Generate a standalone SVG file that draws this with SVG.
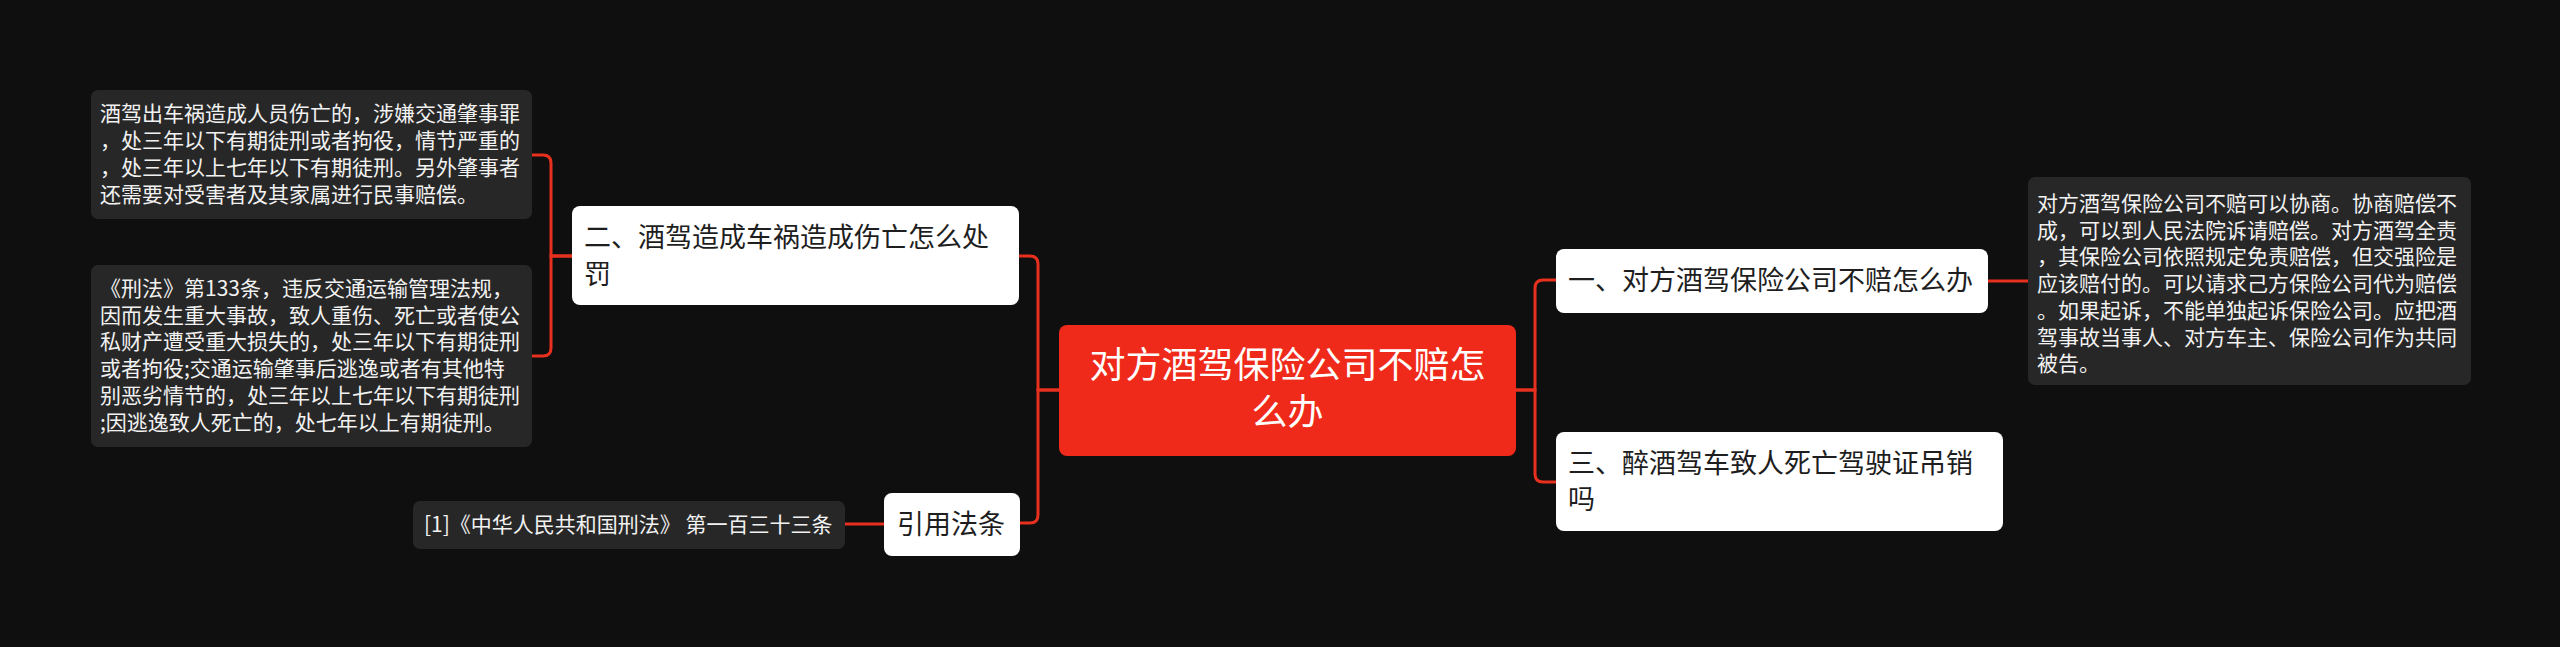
<svg xmlns="http://www.w3.org/2000/svg" width="2560" height="647" viewBox="0 0 2560 647">
<style>
.bg{fill:#0f0f0f}
.leaf{fill:#272727}
.sub{fill:#ffffff}
.root{fill:#ef2a1a}
.lt{font-family:"Noto Sans CJK SC","Noto Sans",sans-serif;font-size:21px;fill:#f2f2f2}
.st{font-family:"Noto Sans CJK SC","Noto Sans",sans-serif;font-size:27px;fill:#1e1e1e}
.rt{font-family:"Noto Sans CJK SC","Noto Sans",sans-serif;font-size:36px;fill:#ffffff;text-anchor:middle}
.ln{fill:none;stroke:#e8301e;stroke-width:3}
</style>
<rect class="bg" x="0" y="0" width="2560" height="647"/>
<g id="connectors">
<path class="ln" d="M1059,390 H1038 V264 Q1038,256 1030,256 H1019"/>
<path class="ln" d="M1059,390 H1038 V515 Q1038,523 1030,523 H1020"/>
<path class="ln" d="M1516,390 H1535 V288 Q1535,280 1543,280 H1556"/>
<path class="ln" d="M1516,390 H1535 V474 Q1535,482 1543,482 H1556"/>
<path class="ln" d="M1988,281 H2028"/>
<path class="ln" d="M572,256 H551 V163 Q551,155 543,155 H532"/>
<path class="ln" d="M572,256 H551 V348 Q551,356 543,356 H532"/>
<path class="ln" d="M884,524 H845"/>
</g>
<g id="root">
<rect class="root" x="1059" y="325" width="457" height="131" rx="8"/>
<text class="rt" x="1287.5" y="378">对方酒驾保险公司不赔怎</text>
<text class="rt" x="1287.5" y="425">么办</text>
</g>
<g id="n2">
<rect class="sub" x="572" y="206" width="447" height="99" rx="8"/>
<text class="st" x="584" y="247">二、酒驾造成车祸造成伤亡怎么处</text>
<text class="st" x="584" y="284">罚</text>
</g>
<g id="n2a">
<rect class="leaf" x="91" y="90" width="441" height="129" rx="7"/>
<text class="lt"><tspan x="100" y="121">酒驾出车祸造成人员伤亡的，涉嫌交通肇事罪</tspan><tspan x="100" y="148">，处三年以下有期徒刑或者拘役，情节严重的</tspan><tspan x="100" y="175">，处三年以上七年以下有期徒刑。另外肇事者</tspan><tspan x="100" y="202">还需要对受害者及其家属进行民事赔偿。</tspan></text>
</g>
<g id="n2b">
<rect class="leaf" x="91" y="265" width="441" height="182" rx="7"/>
<text class="lt"><tspan x="100" y="296">《刑法》第133条，违反交通运输管理法规，</tspan><tspan x="100" y="322.7">因而发生重大事故，致人重伤、死亡或者使公</tspan><tspan x="100" y="349.4">私财产遭受重大损失的，处三年以下有期徒刑</tspan><tspan x="100" y="376.1">或者拘役;交通运输肇事后逃逸或者有其他特</tspan><tspan x="100" y="402.8">别恶劣情节的，处三年以上七年以下有期徒刑</tspan><tspan x="100" y="429.5">;因逃逸致人死亡的，处七年以上有期徒刑。</tspan></text>
</g>
<g id="n4">
<rect class="sub" x="884" y="493" width="136" height="63" rx="8"/>
<text class="st" x="897" y="534">引用法条</text>
</g>
<g id="n4a">
<rect class="leaf" x="413" y="501" width="432" height="48" rx="7"/>
<text class="lt" x="424" y="532">[1]《中华人民共和国刑法》 第一百三十三条</text>
</g>
<g id="n1">
<rect class="sub" x="1556" y="249" width="432" height="64" rx="8"/>
<text class="st" x="1568" y="290">一、对方酒驾保险公司不赔怎么办</text>
</g>
<g id="n1a">
<rect class="leaf" x="2028" y="177" width="443" height="208" rx="7"/>
<text class="lt"><tspan x="2037" y="211">对方酒驾保险公司不赔可以协商。协商赔偿不</tspan><tspan x="2037" y="237.7">成，可以到人民法院诉请赔偿。对方酒驾全责</tspan><tspan x="2037" y="264.4">，其保险公司依照规定免责赔偿，但交强险是</tspan><tspan x="2037" y="291.1">应该赔付的。可以请求己方保险公司代为赔偿</tspan><tspan x="2037" y="317.8">。如果起诉，不能单独起诉保险公司。应把酒</tspan><tspan x="2037" y="344.5">驾事故当事人、对方车主、保险公司作为共同</tspan><tspan x="2037" y="371.2">被告。</tspan></text>
</g>
<g id="n3">
<rect class="sub" x="1556" y="432" width="447" height="99" rx="8"/>
<text class="st" x="1568" y="473">三、醉酒驾车致人死亡驾驶证吊销</text>
<text class="st" x="1568" y="509">吗</text>
</g>
</svg>
